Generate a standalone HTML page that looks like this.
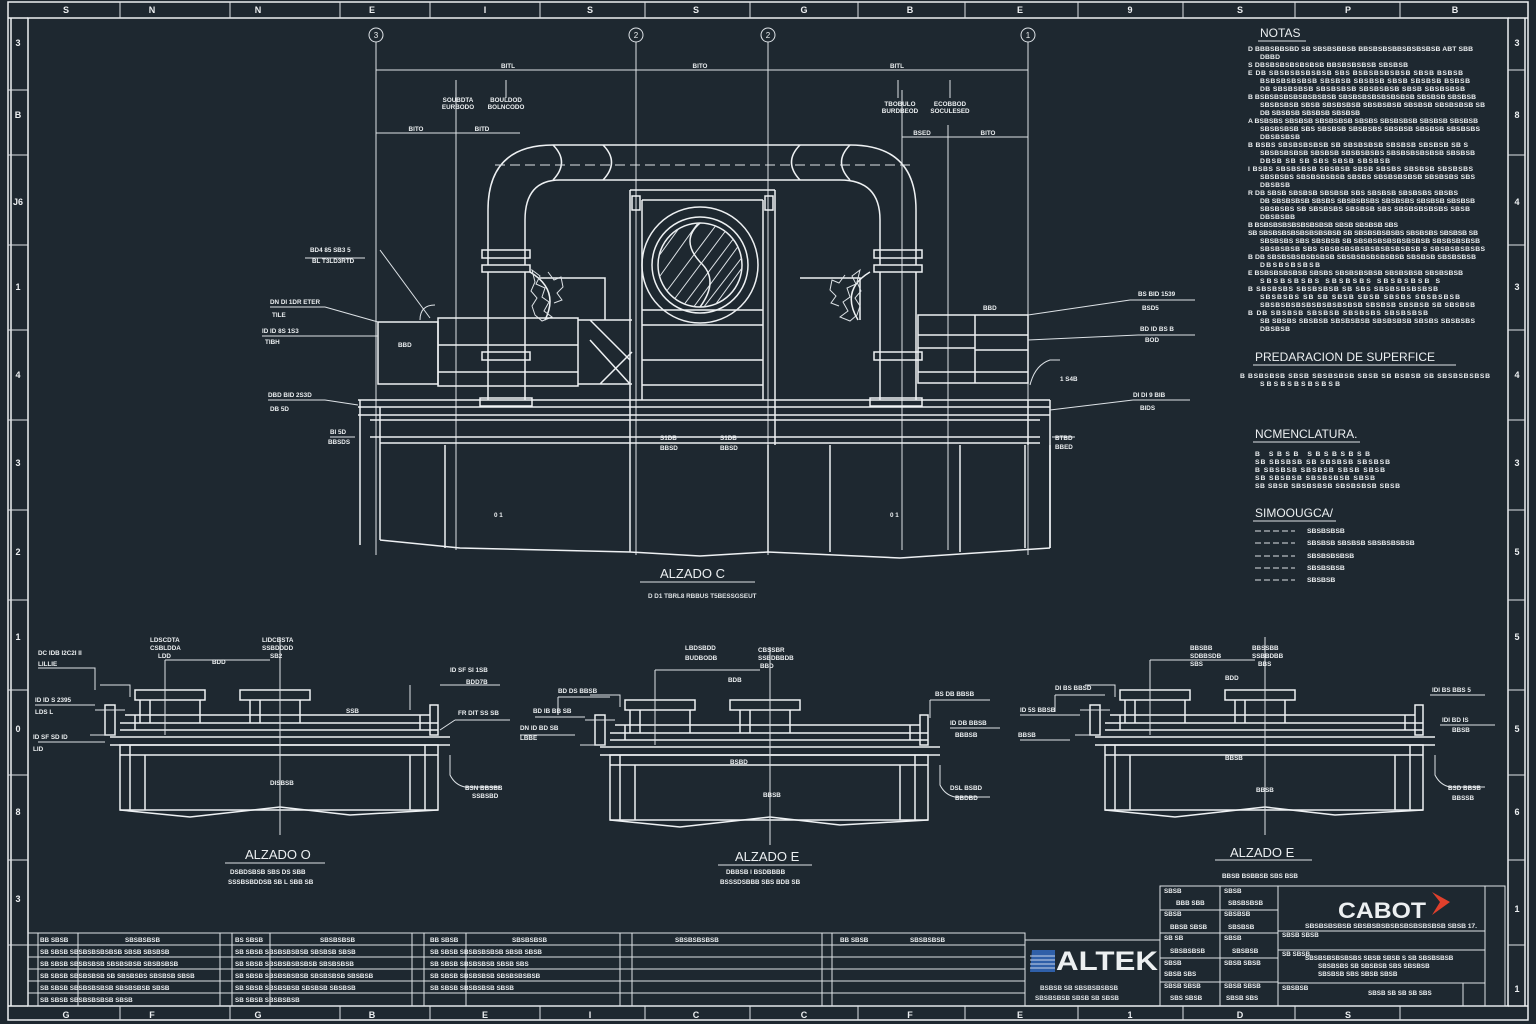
<!DOCTYPE html>
<html><head><meta charset="utf-8"><style>
html,body{margin:0;padding:0;background:#1e2830;}
svg{display:block;}
text{font-family:"Liberation Sans",sans-serif;fill:#eceff1;}
.s{stroke:#eef1f3;fill:none;stroke-width:1.5;}
.t{stroke:#dde2e6;fill:none;stroke-width:1;}
.d{stroke:#dde2e6;fill:none;stroke-width:1;stroke-dasharray:10 5;}
.n{font-size:6.8px;font-weight:bold;fill:#e4e7ea;}
.l{font-size:6.3px;font-weight:bold;fill:#dfe3e6;}
</style></head><body>
<svg width="1536" height="1024" viewBox="0 0 1536 1024" xmlns="http://www.w3.org/2000/svg">
<rect width="1536" height="1024" fill="#1e2830"/>
<g class="s" stroke-width="1.6">
<rect x="8" y="2" width="1520" height="1018"/>
<rect x="28" y="18" width="1480" height="988"/>
<path d="M8 18H28M1508 18H1528M8 1006H28M1508 1006H1528"/>
<path d="M1525 18V1006M11 18V1006"/>
</g>
<g class="t" stroke-width="1.3">
<path d="M120 2V18M230 2V18M340 2V18M430 2V18M540 2V18M645 2V18M750 2V18M858 2V18M965 2V18M1078 2V18M1183 2V18M1295 2V18M1400 2V18"/>
<path d="M120 1006V1020M230 1006V1020M340 1006V1020M430 1006V1020M540 1006V1020M645 1006V1020M750 1006V1020M858 1006V1020M965 1006V1020M1078 1006V1020M1183 1006V1020M1295 1006V1020M1400 1006V1020"/>
<path d="M8 90H28M8 155H28M8 245H28M8 330H28M8 420H28M8 510H28M8 600H28M8 690H28M8 775H28M8 860H28M8 945H28"/>
<path d="M1508 70H1525M1508 155H1525M1508 245H1525M1508 330H1525M1508 420H1525M1508 510H1525M1508 600H1525M1508 690H1525M1508 775H1525M1508 860H1525M1508 945H1525"/>
</g>
<g font-size="9" font-weight="bold" text-anchor="middle">
<text x="66" y="13">S</text><text x="152" y="13">N</text><text x="258" y="13">N</text><text x="372" y="13">E</text><text x="485" y="13">I</text><text x="590" y="13">S</text><text x="696" y="13">S</text><text x="804" y="13">G</text><text x="910" y="13">B</text><text x="1020" y="13">E</text><text x="1130" y="13">9</text><text x="1240" y="13">S</text><text x="1348" y="13">P</text><text x="1455" y="13">B</text>
<text x="66" y="1018">G</text><text x="152" y="1018">F</text><text x="258" y="1018">G</text><text x="372" y="1018">B</text><text x="485" y="1018">E</text><text x="590" y="1018">I</text><text x="696" y="1018">C</text><text x="804" y="1018">C</text><text x="910" y="1018">F</text><text x="1020" y="1018">E</text><text x="1130" y="1018">1</text><text x="1240" y="1018">D</text><text x="1348" y="1018">S</text>
<text x="18" y="46">3</text><text x="18" y="118">B</text><text x="18" y="205">J6</text><text x="18" y="290">1</text><text x="18" y="378">4</text><text x="18" y="466">3</text><text x="18" y="555">2</text><text x="18" y="640">1</text><text x="18" y="732">0</text><text x="18" y="815">8</text><text x="18" y="902">3</text>
<text x="1517" y="46">3</text><text x="1517" y="118">8</text><text x="1517" y="205">4</text><text x="1517" y="290">3</text><text x="1517" y="378">4</text><text x="1517" y="466">3</text><text x="1517" y="555">5</text><text x="1517" y="640">5</text><text x="1517" y="732">5</text><text x="1517" y="815">6</text><text x="1517" y="912">1</text><text x="1517" y="992">1</text>
</g>

<g class="t">
<circle cx="376" cy="35" r="7"/><circle cx="636" cy="35" r="7"/><circle cx="768" cy="35" r="7"/><circle cx="1028" cy="35" r="7"/>
</g>
<g font-size="8" text-anchor="middle"><text x="376" y="38">3</text><text x="636" y="38">2</text><text x="768" y="38">2</text><text x="1028" y="38">1</text></g>
<g class="t">
<path d="M376 42V555M636 42V555M768 42V555M1028 42V555"/>
<path d="M376 70H1028M376 66V74M636 66V74M768 66V74M1028 66V74"/>
<path d="M376 133H520M456 90V550M902 90V550M902 137H1028M948 125V550"/>
<path d="M456 80V98M506 80V98M898 80V98M950 80V98"/>
</g>
<g class="l" text-anchor="middle"><text x="508" y="68">BITL</text><text x="700" y="68">BITO</text><text x="897" y="68">BITL</text>
<text x="416" y="131">BITO</text><text x="482" y="131">BITD</text><text x="922" y="135">BSED</text><text x="988" y="135">BITO</text>
<text x="458" y="102">SOUBDTA</text><text x="458" y="109">EURBODO</text><text x="506" y="102">BOULDOD</text><text x="506" y="109">BOLNCODO</text>
<text x="900" y="106">TBOBULO</text><text x="900" y="113">BURDBEOD</text><text x="950" y="106">ECOBBOD</text><text x="950" y="113">SOCULESED</text></g>

<g class="s" stroke-width="1.6">
<path d="M488 265V210Q488 145 553 145H850Q916 145 916 210V265"/>
<path d="M525 265V220Q525 180 560 180H840Q880 180 880 220V265"/>
<path d="M553 145Q570 162 553 180M603 145Q620 162 603 180M800 145Q783 162 800 180M850 145Q833 162 850 180"/>
<path d="M482 250H530V258H482ZM482 265H530V272H482ZM874 250H922V258H874ZM874 265H922V272H874Z"/>
<path d="M488 272V400M525 272V400M880 272V400M916 272V400"/>
<path d="M482 352H530V360H482ZM874 352H922V360H874ZM480 398H532V406H480ZM870 398H922V406H870Z"/>
<path d="M530 272Q560 290 545 320M870 272Q840 290 858 320"/>
<path d="M540 278H605V320M800 278H860V320"/>
</g>
<path class="d" d="M495 165H910"/>
<g class="t" stroke-width="1.1"><path d="M532 270l8 6-4 8 9 4-3 9 7 5-5 9 8 6-10 4-7-6-3-9 5-8-6-7 4-9zM548 272l6 8 7-3 2 10-6 6 5 7-8 3M860 270l-8 6 4 8-9 4 3 9-7 5 5 9-8 6 10 4 7-6 3-9-5-8 6-7-4-9zM845 275l-6 8-7-3-2 10 6 6-5 7 8 3"/></g>
<g class="s" stroke-width="1.6">
<path d="M630 190H775M630 190V400M642 200V400M763 200V400M775 190V400M642 200H763"/>
<path d="M632 196H640V210H632ZM765 196H773V210H765Z"/>
<circle cx="700" cy="265" r="58"/><circle cx="700" cy="265" r="48"/><circle cx="700" cy="265" r="42"/>
<path d="M642 310H763M642 325H763M642 385H763M642 360H763"/>
</g>
<clipPath id="cc"><circle cx="700" cy="265" r="42"/></clipPath>
<g class="t" clip-path="url(#cc)">
<path d="M660 300l60-80M670 305l60-80M680 310l60-80M690 312l55-75M700 312l50-65M710 312l40-55M650 290l50-70M645 275l40-55"/>
</g>
<path d="M700 223Q680 240 700 262Q720 280 700 307" class="s" fill="#1e2830"/>
<g class="s">
<rect x="378" y="322" width="60" height="62"/><rect x="438" y="318" width="140" height="68"/><path d="M438 345H578M438 372H578M578 320H632M578 384H632M590 320L630 360M590 340L630 384M600 384L632 352"/>
<rect x="918" y="315" width="110" height="68"/><path d="M918 335H1028M918 348H975M975 315V383M975 350H1028M918 372H1028"/>
<path d="M358 400H1050M358 407H1050M358 415H1050M370 420H1040M370 437H1040M380 443H1040"/>
<path d="M380 407V445M630 400V445M775 400V445M1028 400V445"/>
<path d="M380 445V540M445 445V548M630 445V552M768 445V552M830 445V552M960 445V552M1025 445V548M1050 445V548"/>
<path d="M380 540L460 548L630 552L700 556L768 552L900 558L1050 548"/>
<path d="M360 400V545M1050 400V548"/>
</g>
<g class="t"><path d="M420 320Q420 305 435 305M430 318L380 250"/><path d="M1030 385Q1035 365 1050 360H1060"/></g>
<g class="t">
<path d="M305 258H365M270 307H325M262 336H325M268 400H325M1130 300H1195M1138 335H1195M1133 400H1190M330 437H355M1052 437H1075"/>
<path d="M325 307L378 322M325 336L378 336M325 400L358 405M1130 300L1028 315M1138 335L1028 340M1133 400L1050 410"/>
</g>
<g class="l"><text x="310" y="252">BD4 85 SB3 5</text><text x="312" y="263">BL T3LD3RTD</text>
<text x="270" y="304">DN DI 1DR ETER</text><text x="272" y="317">TILE</text>
<text x="262" y="333">ID ID 8S 1S3</text><text x="265" y="344">TIBH</text>
<text x="268" y="397">DBD BID 2S3D</text><text x="270" y="411">DB 5D</text>
<text x="330" y="434">BI 5D</text><text x="328" y="444">BBSDS</text>
<text x="1138" y="296">BS BID 1539</text><text x="1142" y="310">BSD5</text>
<text x="1140" y="331">BD ID BS B</text><text x="1145" y="342">BOD</text>
<text x="1133" y="397">DI DI 9 BIB</text><text x="1140" y="410">BIDS</text>
<text x="1055" y="440">BTBD</text><text x="1055" y="449">BBED</text>
<text x="1060" y="381">1 S4B</text><text x="983" y="310">BBD</text><text x="398" y="347">BBD</text>
<text x="660" y="440">S1DB</text><text x="660" y="450">BBSD</text><text x="720" y="440">S1DB</text><text x="720" y="450">BBSD</text>
<text x="494" y="517">0 1</text><text x="890" y="517">0 1</text></g>
<text x="660" y="578" font-size="13">ALZADO  C</text>
<path class="t" d="M640 582H755"/>
<text x="648" y="598" class="l">D D1 TBRL8 RBBUS T5BESSGSEUT</text>

<defs>
<g id="elev">
<g class="s">
<rect x="0" y="0" width="318" height="65"/>
<path d="M-10 0H330M-10 -8H330M0 10H318M10 0V65M25 10V65M290 10V65M305 0V65"/>
<path d="M0 65L70 72L160 62L230 70L318 65"/>
<path d="M0 -15H318M0 -22H318M5 -30H310M15 -30V-15M300 -30V-15"/>
<rect x="15" y="-55" width="70" height="10"/><rect x="120" y="-55" width="70" height="10"/>
<path d="M20 -45V-22M30 -45V-22M80 -45V-22M130 -45V-22M140 -45V-22M180 -45V-22"/>
<path d="M-15 -40H-5V-10H-15ZM310 -40H318V-10H310Z"/>
</g>
<path class="t" d="M160 -108V90M45 -85V-10M45 -85H150"/>
<path class="t" d="M330 10V30Q335 40 345 42H380M-20 -60H10V-48M-25 -35H5M-30 -10H-5"/>
</g>
</defs>
<use href="#elev" x="120" y="745"/>
<use href="#elev" x="610" y="755"/>
<use href="#elev" x="1105" y="745"/>
<g class="t"><path d="M38 668H95V690M35 705H95M38 742H105M440 685H500M410 685V710M455 720H510M455 720L440 730"/>
<path d="M558 697H610M558 697V715M535 717H585M520 735H575M930 700H990M930 700V718M950 728H1000M1055 695H1105M1055 695V712M1020 715H1080M1020 740H1070M1430 695H1485M1440 725H1495"/></g>
<g class="l">
<text x="38" y="655">DC IDB  I2C2I II</text><text x="38" y="666">LILLIE</text>
<text x="35" y="702">ID ID S 2395</text><text x="35" y="714">LDS L</text>
<text x="33" y="739">ID SF SD ID</text><text x="33" y="751">LID</text>
<text x="150" y="642">LDSCDTA</text><text x="150" y="650">CSBLDDA</text><text x="158" y="658">LDD</text>
<text x="262" y="642">LIDCBSTA</text><text x="262" y="650">SSBDDDD</text><text x="270" y="658">SB2</text>
<text x="212" y="664">BDD</text><text x="270" y="785">DISBSB</text>
<text x="450" y="672">ID SF  SI 1SB</text><text x="466" y="684">BDD7B</text>
<text x="458" y="715">FR DIT SS SB</text><text x="346" y="713">SSB</text>
<text x="465" y="790">BSN BBSBB</text><text x="472" y="798">SSBSBD</text>
<text x="245" y="859" font-size="13" font-weight="normal" fill="#fff">ALZADO  O</text>
<text x="230" y="874">DSBDSBSB  SBS   DS SBB</text><text x="228" y="884">SSSBSBDDSB  SB  L SBB SB</text>
<text x="685" y="650">LBDSBDD</text><text x="685" y="660">BUDBODB</text><text x="758" y="652">CBSSBR</text><text x="758" y="660">SSBDBBDB</text><text x="760" y="668">BBD</text>
<text x="728" y="682">BDB</text>
<text x="558" y="693">BD DS  BBSB</text><text x="533" y="713">BD IB BB SB</text><text x="520" y="730">DN ID BD SB</text><text x="520" y="740">LBBE</text>
<text x="935" y="696">BS DB  BBSB</text><text x="950" y="725">ID DB BBSB</text><text x="955" y="737">BBBSB</text>
<text x="950" y="790">DSL BSBD</text><text x="955" y="800">BBDBD</text><text x="730" y="764">BSBD</text><text x="763" y="797">BBSB</text>
<text x="735" y="861" font-size="13" font-weight="normal" fill="#fff">ALZADO  E</text>
<text x="726" y="874">DBBSB I BSDBBBB</text><text x="720" y="884">BSSSDSBBB SBS BDB SB</text>
<text x="1190" y="650">BBSBB</text><text x="1190" y="658">SDBBSDB</text><text x="1190" y="666">SBS</text><text x="1252" y="650">BBSSBB</text><text x="1252" y="658">SSBBDBB</text><text x="1258" y="666">BBS</text>
<text x="1225" y="680">BDD</text>
<text x="1055" y="690">DI BS  BBSD</text><text x="1020" y="712">ID 5S  BBSB</text><text x="1018" y="737">BBSB</text>
<text x="1432" y="692">IDI BS  BBS 5</text><text x="1442" y="722">IDI BD IS</text><text x="1452" y="732">BBSB</text>
<text x="1448" y="790">BSD BBSB</text><text x="1452" y="800">BBSSB</text><text x="1225" y="760">BBSB</text><text x="1256" y="792">BBSB</text>
<text x="1230" y="857" font-size="13" font-weight="normal" fill="#fff">ALZADO  E</text>
<text x="1222" y="878">BBSB BSBBSB SBS BSB</text>
</g>
<path class="t" d="M225 863H325M718 865H812M1215 860H1312"/>

<text x="1260" y="37" font-size="12">NOTAS</text>
<path class="t" d="M1258 41H1306"/>
<g class="n">
<text x="1248" y="51" textLength="225">D  BBBSBBSBD SB SBSBSBBSB BBSBSBSBBSBSBSBSB ABT SBB</text>
<text x="1260" y="59" textLength="20">DBBD</text>
<text x="1248" y="67" textLength="160">S  DBSBSBSBSBSBSB BBSBSBSBSB SBSBSB</text>
<text x="1248" y="75" textLength="215">E  DB SBSBSBSBSBSB SBS BSBSBSBSBSB SBSB BSBSB</text>
<text x="1260" y="83" textLength="210">BSBSBSBSBSB SBSBSB SBSBSB SBSB SBSBSB BSBSB</text>
<text x="1260" y="91" textLength="205">DB SBSBSBSB SBSBSBSB SBSBSBSB SBSB SBSBSBSB</text>
<text x="1248" y="99" textLength="228">B  BSBSBSBSBSBSBSBSB SBSBSBSBSBSBSBSB SBSBSB SBSBSB</text>
<text x="1260" y="107" textLength="225">SBSBSBSB SBSB SBSBSBSB SBSBSBSB SBSBSB SBSBSBSB SB</text>
<text x="1260" y="115" textLength="100">DB SBSBSB SBSBSB SBSBSB</text>
<text x="1248" y="123" textLength="230">A  BSBSBS SBSBSB SBSBSBSB SBSBS SBSBSBSB SBSBSB SBSBSB</text>
<text x="1260" y="131" textLength="220">SBSBSBSB SBS SBSBSB SBSBSBS SBSBSB SBSBSB SBSBSBS</text>
<text x="1260" y="139" textLength="40">DBSBSBSB</text>
<text x="1248" y="147" textLength="220">B  BSBS SBSBSBSBSB SB SBSBSBSB SBSBSB SBSBSB SB S</text>
<text x="1260" y="155" textLength="215">SBSBSBSBSB SBSBSB SBSBSBSBS SBSBSBSBSBSB SBSBSB</text>
<text x="1260" y="163" textLength="130">DBSB SB SB SBS SBSB SBSBSB</text>
<text x="1248" y="171" textLength="225">I  BSBS SBSBSBSB SBSBSB SBSB SBSBS SBSBSB SBSBSBS</text>
<text x="1260" y="179" textLength="215">SBSBSBS SBSBSBSBSB SBSBS SBSBSBSBSB SBSBSBS SBS</text>
<text x="1260" y="187" textLength="30">DBSBSB</text>
<text x="1248" y="195" textLength="210">R  DB SBSB SBSBSB SBSBSB SBS SBSBSB SBSBSBS SBSBS</text>
<text x="1260" y="203" textLength="215">DB SBSBSBSB SBSBS SBSBSBSBS SBSBSBS SBSBSB SBSBSB</text>
<text x="1260" y="211" textLength="210">SBSBSBS SB SBSBSBS SBSBSB SBS SBSBSBSBSBS SBSB</text>
<text x="1260" y="219" textLength="35">DBSBSBB</text>
<text x="1248" y="227" textLength="150">B  BSBSBSBSBSBSBSBSB SBSB SBSBSB SBS</text>
<text x="1248" y="235" textLength="230">SB SBSBSBSBSBSBSBSBSB SB SBSBSBSBSBS SBSBSBS SBSBSB SB</text>
<text x="1260" y="243" textLength="220">SBSBSBS SBS SBSBSB SB SBSBSBSBSBSBSBSB SBSBSBSBSB</text>
<text x="1260" y="251" textLength="225">SBSBSBSB  SBS SBSBSBSBSBSBSBSBSBSB S SBSBSBSBSBS</text>
<text x="1248" y="259" textLength="228">B  DB SBSBSBSBSBSBSB SBSBSBSBSBSBSB SBSBSB SBSBSBSB</text>
<text x="1260" y="267" textLength="60">DBSBSBSBSB</text>
<text x="1248" y="275" textLength="215">E  BSBSBSBSBSB SBSBS SBSBSBSBSB SBSBSBSB SBSBSBSB</text>
<text x="1260" y="283" textLength="180">SBSBSBSBS  SBSBSBS SBSBSBSB S</text>
<text x="1248" y="291" textLength="190">B  SBSBSBS SBSBSBSB SB SBS SBSBSBSBSBSB</text>
<text x="1260" y="299" textLength="200">SBSBSBS SB SB SBSB SBSB SBSBS SBSBSBSB</text>
<text x="1260" y="307" textLength="215">SBSBSBSBSBSBSBSBSBSB SBSBSB SBSBSB SB SBSBSB</text>
<text x="1248" y="315" textLength="180">B  DB SBSBSB SBSBSB SBSBSBS SBSBSBSB</text>
<text x="1260" y="323" textLength="215">SB SBSBS SBSBSB SBSBSBSB SBSBSBSB SBSBS SBSBSBS</text>
<text x="1260" y="331" textLength="30">DBSBSB</text>
</g>
<text x="1255" y="361" font-size="12">PREDARACION  DE  SUPERFICE</text>
<path class="t" d="M1253 365H1456"/>
<g class="n"><text x="1240" y="378" textLength="250">B  BSBSBSB   SBSB  SBSBSBSB SBSB SB BSBSB  SB SBSBSBSBSB</text><text x="1260" y="386" textLength="80">SBSBSBSBSBSB</text></g>
<text x="1255" y="438" font-size="12">NCMENCLATURA.</text>
<path class="t" d="M1253 442H1360"/>
<g class="n"><text x="1255" y="456" textLength="115">B  SBSB SBSBSBSB</text><text x="1255" y="464" textLength="135">SB SBSBSB SB SBSBSB SBSBSB</text><text x="1255" y="472" textLength="130">B  SBSBSB SBSBSB SBSB SBSB</text><text x="1255" y="480" textLength="120">SB SBSBSB SBSBSBSB SBSB</text><text x="1255" y="488" textLength="145">SB SBSB SBSBSBSB SBSBSBSB SBSB</text></g>
<text x="1255" y="517" font-size="12">SIMOOUGCA/</text>
<path class="t" d="M1253 521H1336"/>
<g class="t" stroke-dasharray="6 3"><path d="M1255 531H1295M1255 543H1295M1255 556H1295M1255 568H1295M1255 580H1295"/></g>
<g class="n"><text x="1307" y="533">SBSBSBSB</text><text x="1307" y="545">SBSBSB SBSBSB SBSBSBSBSB</text><text x="1307" y="558">SBSBSBSBSB</text><text x="1307" y="570">SBSBSBSB</text><text x="1307" y="582">SBSBSB</text></g>

<g class="t" stroke-width="1.1">
<rect x="28" y="933" width="997" height="73"/>
<path d="M28 945H1025M28 957H1025M28 969H1025M28 981H1025M28 993H1025"/>
<path d="M38 933V1006M78 933V1006M220 933V1006M232 933V1006M270 933V1006M412 933V1006M424 933V1006M466 933V1006M620 933V1006M632 933V1006M822 933V1006M832 933V1006"/>
</g>
<g class="l" font-size="5.5">
<text x="40" y="942">BB SBSB</text><text x="125" y="942">SBSBSBSB</text><text x="235" y="942">BS SBSB</text><text x="320" y="942">SBSBSBSB</text><text x="430" y="942">BB SBSB</text><text x="512" y="942">SBSBSBSB</text><text x="675" y="942">SBSBSBSBSB</text><text x="840" y="942">BB SBSB</text><text x="910" y="942">SBSBSBSB</text>
<text x="40" y="954">SB SBSB SBSBSBSBSBSB SBSB SBSBSB</text><text x="235" y="954">SB SBSB SBSBSBSBSB SBSBSB SBSB</text><text x="430" y="954">SB SBSB SBSBSBSBSB SBSB SBSB</text>
<text x="40" y="966">SB SBSB SBSBSBSB SBSBSBSB SBSBSBSB</text><text x="235" y="966">SB SBSB SBSBSBSBSBSB SBSBSBSB</text><text x="430" y="966">SB SBSB SBSBSBSB SBSB SBS</text>
<text x="40" y="978">SB SBSB SBSBSBSB SB SBSBSBS SBSBSB SBSB</text><text x="235" y="978">SB SBSB SBSBSBSBSB SBSBSBSB SBSBSB</text><text x="430" y="978">SB SBSB SBSBSBSB SBSBSBSBSB</text>
<text x="40" y="990">SB SBSB SBSBSBSBSB SBSBSBSB SBSB</text><text x="235" y="990">SB SBSB SBSBSBSB SBSBSB SBSBSB</text><text x="430" y="990">SB SBSB SBSBSBSB SBSB</text>
<text x="40" y="1002">SB SBSB SBSBSBSBSB SBSB</text><text x="235" y="1002">SB SBSB SBSBSBSB</text>
</g>
<g>
<path d="M1032 950H1055V972H1030Z" fill="#2f5fa8"/>
<path d="M1030 956H1055M1030 960H1055M1030 964H1055M1030 968H1055" stroke="#c9d6ea" stroke-width="1"/>
<text x="1056" y="970" font-size="27" font-weight="bold" fill="#fff" textLength="102" lengthAdjust="spacingAndGlyphs">ALTEK</text>
<text x="1040" y="990" class="l">BSBSB SB SBSBSBSBSB</text>
<text x="1035" y="1000" class="l">SBSBSBSB SBSB SB SBSB</text>
</g>
<g class="t" stroke-width="1.3">
<rect x="1160" y="886" width="345" height="120"/>
<path d="M1160 886V1006M1220 886V1006M1278 886V1006M1220 910H1278M1160 910H1220M1160 933H1278M1160 958H1278M1160 982H1278M1278 931H1485M1278 950H1485M1278 983H1485M1463 983V1006M1485 886V1006M1025 940H1160"/>
</g>
<g class="l" font-size="5.5">
<text x="1164" y="893">SBSB</text><text x="1176" y="905">BBB SBB</text><text x="1224" y="893">SBSB</text><text x="1228" y="905">SBSBSBSB</text>
<text x="1164" y="916">SBSB</text><text x="1170" y="929">BBSB SBSB</text><text x="1224" y="916">SBSBSB</text><text x="1228" y="929">SBSBSB</text>
<text x="1164" y="940">SB SB</text><text x="1170" y="953">SBSBSBSB</text><text x="1224" y="940">SBSB</text><text x="1232" y="953">SBSBSB</text>
<text x="1164" y="965">SBSB</text><text x="1164" y="976">SBSB SBS</text><text x="1224" y="965">SBSB SBSB</text>
<text x="1164" y="988">SBSB SBSB</text><text x="1170" y="1000">SBS SBSB</text><text x="1224" y="988">SBSB SBSB</text><text x="1226" y="1000">SBSB SBS</text>
<text x="1282" y="937">SBSB SBSB</text><text x="1282" y="956">SB SBSB</text><text x="1282" y="990">SBSBSB</text>
<text x="1305" y="960">SBSBSBSBSBSBS SBSB SBSB S SB SBSBSBSB</text><text x="1318" y="968">SBSBSBS SB  SBSBSB SBS SBSBSB</text><text x="1318" y="976">SBSBSB SBS SBSB SBSB</text>
<text x="1368" y="995">SBSB SB SB SB SBS</text>
</g>
<text x="1338" y="918" font-size="22" font-weight="bold" fill="#fff" textLength="88" lengthAdjust="spacingAndGlyphs">CABOT</text>
<path d="M1432 892L1450 902L1432 915L1440 902Z" fill="#e0402c"/>
<text x="1305" y="928" class="n" textLength="172">SBSBSBSBSB SBSBSBSBSBSBSBSBSBSB SBSB  17.</text>
</svg>
</body></html>
